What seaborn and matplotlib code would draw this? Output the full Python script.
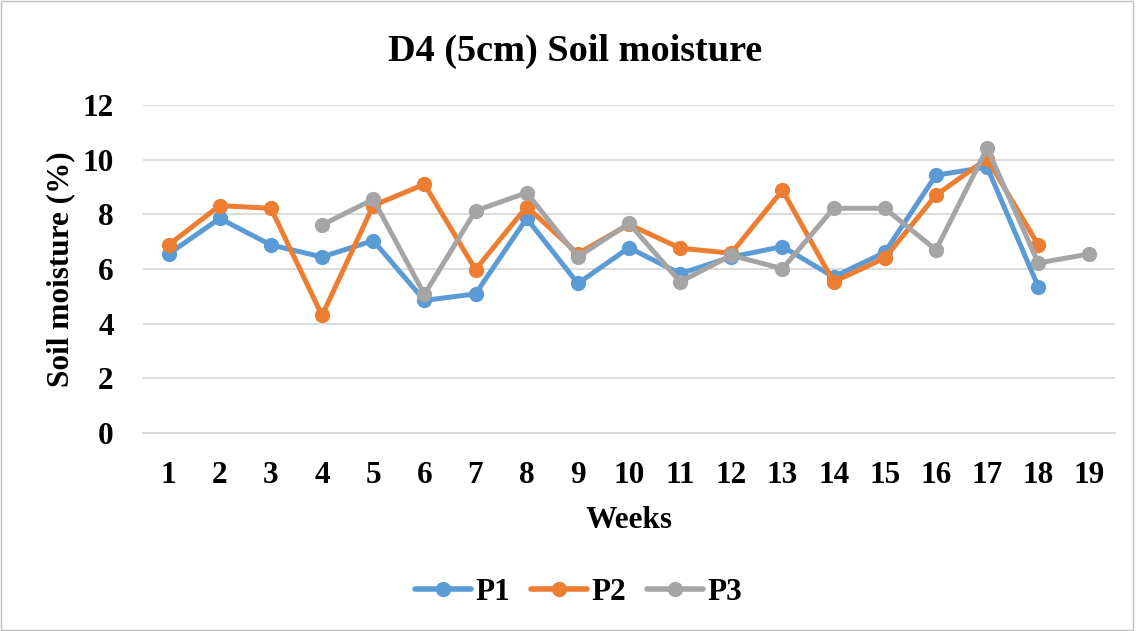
import pandas as pd
import matplotlib.pyplot as plt
import seaborn as sns
from matplotlib.patches import Rectangle
from matplotlib.lines import Line2D

# Weekly soil moisture values (None = no reading)
weeks = list(range(1, 20))
p1 = [6.55, 7.85, 6.88, 6.44, 7.04, 4.85, 5.09, 7.85, 5.47, 6.78,
      5.83, 6.44, 6.82, 5.71, 6.61, 9.43, 9.73, 5.35, None]
p2 = [6.88, 8.32, 8.22, 4.30, 8.32, 9.10, 5.98, 8.28, 6.56, 7.63,
      6.76, 6.58, 8.88, 5.53, 6.40, 8.70, 10.04, 6.88, None]
p3 = [None, None, None, 7.61, 8.55, 5.07, 8.13, 8.79, 6.44, 7.67,
      5.53, 6.50, 6.01, 8.22, 8.22, 6.70, 10.42, 6.22, 6.55]

series_names = ["P1", "P2", "P3"]
colors = ["#5B9BD5", "#ED7D31", "#A5A5A5"]

df = pd.DataFrame({"Week": weeks, "P1": p1, "P2": p2, "P3": p3})
long_df = df.melt(id_vars="Week", var_name="Series", value_name="Moisture").dropna()

sns.set_theme(style="white")
plt.rcParams["font.family"] = ["Liberation Serif", "DejaVu Serif"]
plt.rcParams["font.weight"] = "bold"
for key in ["text.color", "axes.labelcolor", "xtick.color", "ytick.color"]:
    plt.rcParams[key] = "black"

fig = plt.figure(figsize=(11.39, 6.31), dpi=100)
ax = fig.add_axes([143 / 1139, 1 - 433 / 631, (1115 - 143) / 1139, (433 - 105) / 631])

sns.lineplot(data=long_df, x="Week", y="Moisture", hue="Series",
             palette=colors, marker="o", markersize=11, markeredgewidth=0,
             linewidth=3.6, ax=ax, legend=False)

ax.set_xlim(0.5, 19.5)
ax.set_ylim(0, 12)
ax.set_xticks(weeks)
ax.set_yticks(range(0, 13, 2))
ax.tick_params(axis="both", length=0, labelsize=22.5)
ax.tick_params(axis="x", pad=20)
ax.tick_params(axis="y", pad=21)
for lbl in ax.get_xticklabels() + ax.get_yticklabels():
    lbl.set_fontweight("bold")
ax.yaxis.grid(True, color="#D9D9D9", linewidth=1.3)
ax.set_axisbelow(True)
for side in ["top", "right", "left"]:
    ax.spines[side].set_visible(False)
ax.spines["bottom"].set_color("#D9D9D9")
ax.spines["bottom"].set_linewidth(1.3)

ax.set_xlabel("Weeks", fontsize=22.5, fontweight="bold", labelpad=12)
ax.set_ylabel("Soil moisture (%)", fontsize=22.5, fontweight="bold", labelpad=5)

fig.text(0.505, 1 - 51 / 631, "D4 (5cm) Soil moisture", ha="center", va="center",
         fontsize=27.5, fontweight="bold")

handles = [Line2D([], [], color=c, linewidth=4, marker="o", markersize=11,
                  markeredgewidth=0) for c in colors]
ax.legend(handles, series_names, loc="center", bbox_to_anchor=(0.508, 1 - 592 / 631),
          bbox_transform=fig.transFigure, ncol=3, frameon=False,
          prop={"size": 22.5, "weight": "bold"}, handlelength=1.8,
          columnspacing=0.65, handletextpad=0.15)

# chart area border
fig.patches.append(Rectangle((0.001, 0.002), 0.994, 0.996, transform=fig.transFigure,
                             fill=False, edgecolor="#BFBFBF", linewidth=1))

fig.savefig("out.png", dpi=100)
